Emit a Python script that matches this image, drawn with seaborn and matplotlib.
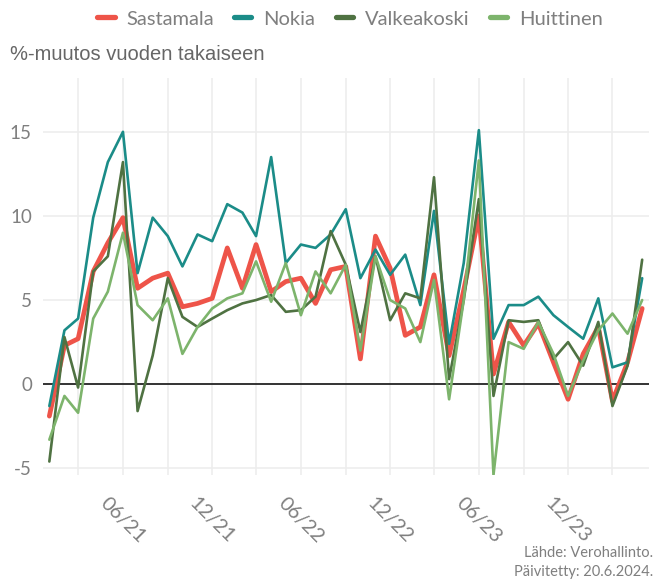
import pandas as pd
import matplotlib
matplotlib.use("Agg")
import matplotlib.pyplot as plt
import matplotlib.dates as mdates
from matplotlib.lines import Line2D
import seaborn as sns

# monthly year-over-year change, Jan 2021 - May 2024
months = pd.date_range("2021-01-01", periods=41, freq="MS")

sastamala = [-1.9, 2.3, 2.7, 6.7, 8.4, 9.9, 5.7, 6.3, 6.6, 4.6, 4.8, 5.1,
             8.1, 5.7, 8.3, 5.5, 6.1, 6.3, 4.8, 6.8, 7.0, 1.5, 8.8, 6.9,
             2.9, 3.4, 6.5, 1.7, 5.6, 10.0, 0.6, 3.7, 2.3, 3.6, 1.3, -0.9,
             1.8, 3.4, -1.0, 1.3, 4.5]
nokia = [-1.3, 3.2, 3.9, 9.9, 13.2, 15.0, 6.6, 9.9, 8.8, 7.0, 8.9, 8.5,
         10.7, 10.2, 8.8, 13.5, 7.2, 8.3, 8.1, 8.9, 10.4, 6.3, 8.0, 6.5,
         7.7, 4.7, 10.3, 2.4, 7.2, 15.1, 2.7, 4.7, 4.7, 5.2, 4.1, 3.4,
         2.7, 5.1, 1.0, 1.3, 6.3]
valkeakoski = [-4.6, 2.8, -0.2, 6.7, 7.6, 13.2, -1.6, 1.7, 6.3, 4.0, 3.4, 3.9,
               4.4, 4.8, 5.0, 5.3, 4.3, 4.4, 5.2, 9.1, 7.1, 3.1, 7.6, 3.8,
               5.4, 5.1, 12.3, 0.3, 5.0, 11.0, -0.7, 3.8, 3.7, 3.8, 1.5, 2.5,
               1.1, 3.7, -1.3, 1.1, 7.4]
huittinen = [-3.3, -0.7, -1.7, 3.9, 5.5, 9.0, 4.7, 3.8, 5.1, 1.8, 3.4, 4.5,
             5.1, 5.4, 7.3, 4.9, 7.2, 4.1, 6.7, 5.4, 7.1, 2.0, 7.6, 5.0,
             4.5, 2.5, 6.2, -0.9, 5.0, 13.3, -5.4, 2.5, 2.1, 3.7, 1.8, -0.7,
             1.4, 3.2, 4.2, 3.0, 5.0]

names = ["Sastamala", "Nokia", "Valkeakoski", "Huittinen"]
colors = ["#EE5449", "#1B8C88", "#4F7242", "#7DB46C"]
widths = [3.4, 1.9, 1.9, 1.9]

df = pd.DataFrame({"Kuukausi": months, "Sastamala": sastamala, "Nokia": nokia,
                   "Valkeakoski": valkeakoski, "Huittinen": huittinen})

sns.set_style("white")
plt.rcParams["font.family"] = ["Lato", "DejaVu Sans"]
plt.rcParams["axes.unicode_minus"] = False
grey = "#7f7f7f"

fig = plt.figure(figsize=(6.54, 5.79), dpi=100)
ax = fig.add_axes([43 / 654, 1 - 475 / 579, 606 / 654, 397 / 579])

ax.axhline(0, color="black", lw=1.1, zorder=1)
for name, col, lw in zip(names, colors, widths):
    sns.lineplot(data=df, x="Kuukausi", y=name, color=col, linewidth=lw,
                 ax=ax, legend=False, zorder=2)

ax.set_xlim(months[0] - pd.Timedelta(days=13), months[-1] + pd.Timedelta(days=14))
ax.set_ylim(-5.4, 18.2)
ax.set_yticks([-5, 0, 5, 10, 15])

ax.xaxis.set_major_locator(mdates.MonthLocator(bymonth=[6, 12]))
ax.xaxis.set_minor_locator(mdates.MonthLocator(bymonth=[3, 9]))
ax.xaxis.set_major_formatter(mdates.DateFormatter("%m/%y"))
ax.grid(True, which="both", axis="x", color="#EDEDED", lw=1.2, zorder=0)
ax.grid(True, which="major", axis="y", color="#EDEDED", lw=1.2, zorder=0)
ax.set_axisbelow(True)
for s in ax.spines.values():
    s.set_visible(False)
ax.tick_params(length=0, labelsize=13.5, colors=grey)
ax.tick_params(axis="y", pad=8)
ax.tick_params(axis="x", pad=14, labelsize=14.5)
for lab in ax.get_xticklabels():
    lab.set_rotation(-45)
    lab.set_ha("center")
ax.set_xlabel("")
ax.set_ylabel("")

handles = [Line2D([0], [0], color=c, lw=3.8) for c in colors]
fig.legend(handles, names, loc="center", bbox_to_anchor=(350 / 654, 1 - 19 / 579),
           ncol=4, frameon=False, fontsize=14.5, handlelength=0.85,
           handletextpad=0.6, columnspacing=1.0, labelcolor=grey)

fig.text(10 / 654, 1 - 55 / 579, "%-muutos vuoden takaiseen", fontsize=14.5,
         color="#666666", va="center", ha="left", family="Liberation Sans")
fig.text(653 / 654, 1 - 553 / 579, "Lähde: Verohallinto.", fontsize=10.5,
         color=grey, va="center", ha="right")
fig.text(653 / 654, 1 - 572 / 579, "Päivitetty: 20.6.2024.", fontsize=10.5,
         color=grey, va="center", ha="right")

fig.savefig("out.png", dpi=100)
